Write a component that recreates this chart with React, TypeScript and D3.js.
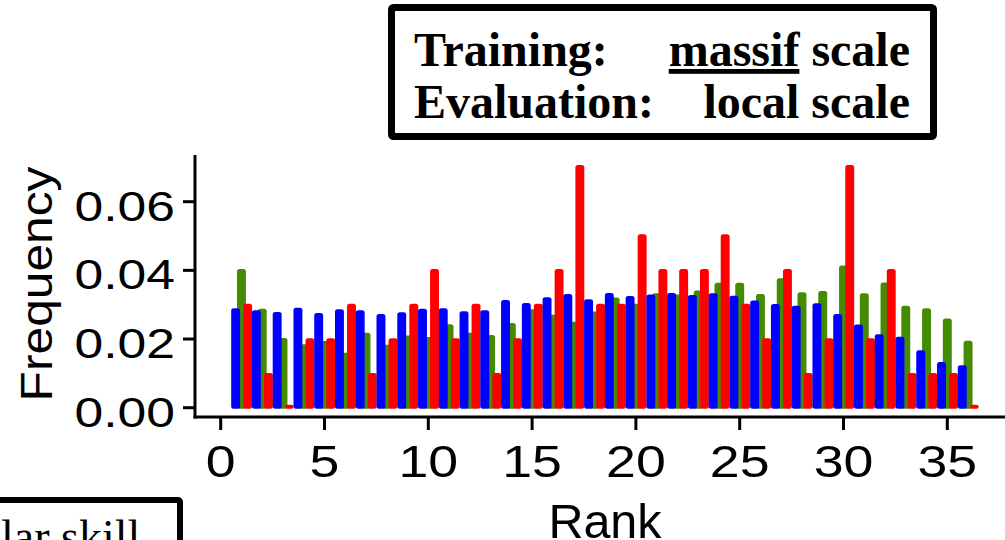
import React from "react";
import * as d3 from "d3";

// Rank histogram frequencies for ranks 1..36
const ranks: number[] = d3.range(1, 37);
const blueFreq: number[] = [
  0.029, 0.0284, 0.0279, 0.0291, 0.0276, 0.0287, 0.0284, 0.0273, 0.0278,
  0.0288, 0.029, 0.0281, 0.0284, 0.0314, 0.0305, 0.0322, 0.0331, 0.0316,
  0.0334, 0.0325, 0.033, 0.0334, 0.0328, 0.0333, 0.0326, 0.0312, 0.0302,
  0.0297, 0.0304, 0.0273, 0.0242, 0.0214, 0.0207, 0.0167, 0.0133, 0.0124,
];
const greenFreq: number[] = [
  0.0404, 0.0288, 0.0203, 0.0185, 0.0194, 0.016, 0.0218, 0.0183, 0.021,
  0.0206, 0.0243, 0.0218, 0.0212, 0.0247, 0.0287, 0.0271, 0.025, 0.028,
  0.0321, 0.0303, 0.0333, 0.033, 0.0341, 0.0364, 0.0364, 0.0331, 0.0377,
  0.0336, 0.034, 0.0414, 0.0333, 0.0365, 0.0297, 0.029, 0.026, 0.0195,
];
// counts out of 99 cases
const redCounts: number[] = [
  3, 1, 0, 2, 2, 3, 1, 2, 3, 4, 2, 3, 1, 2, 3, 4, 7, 3, 3, 5, 4, 4, 4, 5, 3, 2,
  4, 1, 2, 7, 2, 4, 1, 1, 1, 0,
];
const redTotal = 99;
const redFreq: number[] = redCounts.map((c) => c / redTotal);

const xTicks: number[] = [0, 5, 10, 15, 20, 25, 30, 35];
const yTicks: number[] = [0, 0.02, 0.04, 0.06];

const W = 1005;
const H = 540;

const x = d3.scaleLinear().domain([0, 35]).range([220.7, 947.3]);
const y = d3.scaleLinear().domain([0, 0.06]).range([407.7, 201.7]);
const unit = x(1) - x(0);
const barW = unit * 0.43;

type Series = { key: string; color: string; values: number[]; offset: number };
// drawing order: green underneath, then red, then blue
const series: Series[] = [
  { key: "green", color: "#458B00", values: greenFreq, offset: 0 },
  { key: "red", color: "#FF0000", values: redFreq, offset: 0.3 },
  { key: "blue", color: "#0000FF", values: blueFreq, offset: -0.28 },
];

const sans = "'Liberation Sans', Arial, sans-serif";
const serif = "'Liberation Serif', 'Times New Roman', serif";

export default function App() {
  const base = y(0);
  return (
    <svg
      width={W}
      height={H}
      style={{ position: "absolute", left: 0, top: 0, background: "#fff" }}
    >
      <rect x={0} y={0} width={W} height={H} fill="#fff" />

      {/* bars */}
      {series.map((s) => (
        <g key={s.key} fill={s.color}>
          {ranks.map((r, i) => {
            const top = Math.min(y(s.values[i]), base - 3);
            const cx = x(r + s.offset);
            return (
              <rect
                key={r}
                x={cx - barW / 2}
                y={top}
                width={barW}
                height={base + 1 - top}
                rx={2.5}
                ry={2.5}
              />
            );
          })}
        </g>
      ))}

      {/* axes */}
      <line x1={195} x2={195} y1={155} y2={418.5} stroke="#000" strokeWidth={3} />
      <line x1={193.5} x2={W} y1={417} y2={417} stroke="#000" strokeWidth={3} />
      {yTicks.map((t) => (
        <g key={t}>
          <line x1={183} x2={195} y1={y(t)} y2={y(t)} stroke="#000" strokeWidth={3} />
          <g transform={`translate(175,${y(t) + 19}) scale(1.2,1)`}>
            <text textAnchor="end" fontFamily={sans} fontSize={43} fill="#000">
              {d3.format(".2f")(t)}
            </text>
          </g>
        </g>
      ))}
      {xTicks.map((t) => (
        <g key={t}>
          <line x1={x(t)} x2={x(t)} y1={417} y2={430} stroke="#000" strokeWidth={3} />
          <g transform={`translate(${x(t)},476.5) scale(1.22,1)`}>
            <text textAnchor="middle" fontFamily={sans} fontSize={44} fill="#000">
              {t}
            </text>
          </g>
        </g>
      ))}

      {/* axis titles */}
      <g transform="translate(51.5,284) rotate(-90) scale(1.13,1)">
        <text textAnchor="middle" fontFamily={sans} fontSize={44} fill="#000">
          Frequency
        </text>
      </g>
      <text x={605} y={538} textAnchor="middle" fontFamily={sans} fontSize={48.5} fill="#000">
        Rank
      </text>

      {/* title box */}
      <rect x={391.5} y={7.5} width={542} height={129} fill="#fff" stroke="#000" strokeWidth={7} rx={2} />
      <g fontFamily={serif} fontWeight="bold" fontSize={48} fill="#000">
        <text x={414} y={66}>Training:</text>
        <text x={910} y={66} textAnchor="end">
          <tspan textDecoration="underline">massif</tspan> scale
        </text>
        <text x={414} y={118}>Evaluation:</text>
        <text x={910} y={118} textAnchor="end">local scale</text>
      </g>

      {/* lower-left panel box */}
      <rect x={-20} y={500} width={200} height={80} fill="#fff" stroke="#000" strokeWidth={6} rx={2} />
      <text x={1} y={552} fontFamily={serif} fontSize={46} fill="#000">
        lar skill
      </text>
    </svg>
  );
}
